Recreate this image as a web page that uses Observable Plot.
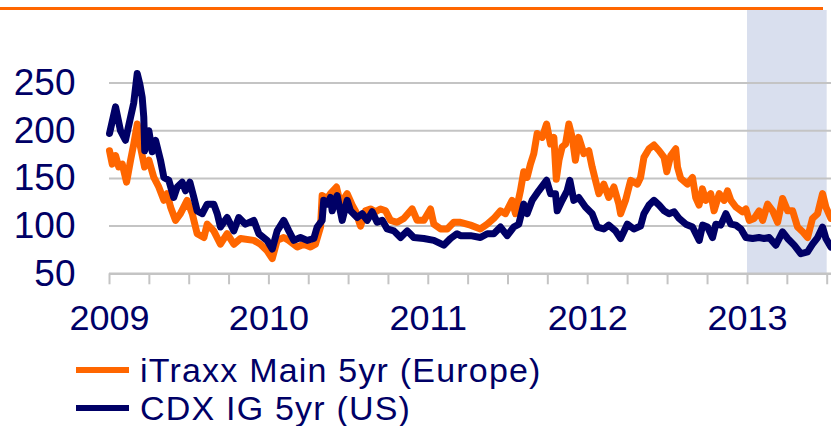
<!DOCTYPE html>
<html>
<head>
<meta charset="utf-8">
<script src="https://cdn.jsdelivr.net/npm/d3@7"></script>
<script src="https://cdn.jsdelivr.net/npm/@observablehq/plot@0.6"></script>
<style>
  html, body { margin: 0; padding: 0; background: #fff; }
  #wrap { position: relative; width: 831px; height: 426px; overflow: hidden; font-family: Arial, "Liberation Sans", sans-serif; color: #000066; }
  #toprule { position: absolute; left: 0; top: 7px; width: 823px; height: 3px; background: #ff6600; }
  #chart svg { display: block; }
  .row { display: flex; align-items: center; height: 38px; }
  .sw { width: 53px; height: 6px; margin-left: 76px; margin-right: 11px; flex: none; }
  .lab { display: inline-block; font-size: 34px; line-height: 38px; letter-spacing: 1.2px; white-space: nowrap; }
</style>
</head>
<body>
<div id="wrap">
  <div id="chart"></div>
  <div id="legend"></div>
  <div id="toprule"></div>
</div>
<script>
// ---- Data (decimal years, basis points) ----
const seriesNames = ["iTraxx Main 5yr (Europe)", "CDX IG 5yr (US)"];
const seriesColors = ["#ff6600", "#000066"];

const itraxxT = [2009.000,2009.017,2009.038,2009.058,2009.080,2009.107,2009.132,2009.152,2009.174,2009.194,2009.220,2009.247,2009.278,2009.309,2009.341,2009.362,2009.383,2009.414,2009.445,2009.487,2009.519,2009.550,2009.592,2009.613,2009.654,2009.696,2009.738,2009.780,2009.822,2009.905,2009.947,2009.989,
2010.021,2010.052,2010.093,2010.125,2010.178,2010.219,2010.261,2010.292,2010.324,2010.334,2010.366,2010.386,2010.424,2010.449,2010.491,2010.523,2010.543,2010.575,2010.606,2010.637,2010.669,2010.700,2010.732,2010.763,2010.805,2010.846,2010.899,2010.930,2010.972,
2011.014,2011.035,2011.077,2011.119,2011.160,2011.202,2011.265,2011.327,2011.370,2011.411,2011.453,2011.484,2011.526,2011.547,2011.578,2011.599,2011.620,2011.641,2011.662,2011.683,2011.715,2011.742,2011.767,2011.788,2011.803,2011.820,2011.840,2011.861,2011.882,2011.903,2011.923,2011.944,2011.976,
2012.007,2012.028,2012.049,2012.070,2012.101,2012.132,2012.164,2012.195,2012.206,2012.237,2012.269,2012.311,2012.331,2012.352,2012.384,2012.415,2012.447,2012.478,2012.495,2012.520,2012.551,2012.562,2012.582,2012.624,2012.656,2012.676,2012.697,2012.718,2012.739,2012.770,2012.791,2012.823,2012.854,2012.875,2012.896,2012.927,2012.969,2012.990,
2013.011,2013.042,2013.073,2013.095,2013.126,2013.158,2013.189,2013.220,2013.252,2013.283,2013.314,2013.346,2013.377,2013.408,2013.440,2013.471,2013.492,2013.523];
const itraxxV = [179,165,174,162,165,146,169,186,207,183,162,169,151,141,127,134,120,106,113,127,113,92,88,102,95,81,92,81,87,85,81,74,
66,85,88,85,78,81,78,81,99,132,129,134,141,123,134,122,116,100,116,118,115,118,116,106,104,108,118,106,106,
118,102,97,97,104,104,101,97,102,108,116,113,127,113,137,157,151,165,176,197,193,207,186,193,149,169,183,186,207,193,169,193,176,
179,162,148,134,144,130,141,123,113,127,148,144,151,172,181,185,179,172,157,174,181,162,150,144,151,130,122,139,127,134,116,134,127,137,127,120,115,118,
106,108,116,106,123,116,104,129,116,116,99,94,88,108,113,134,120,108];

const cdxT = [2009.000,2009.038,2009.069,2009.100,2009.132,2009.152,2009.174,2009.190,2009.205,2009.215,2009.221,2009.247,2009.268,2009.289,2009.320,2009.341,2009.372,2009.403,2009.425,2009.456,2009.477,2009.504,2009.529,2009.550,2009.582,2009.613,2009.654,2009.676,2009.696,2009.738,2009.780,2009.811,2009.853,2009.905,2009.937,2009.989,
2010.021,2010.052,2010.093,2010.125,2010.156,2010.198,2010.240,2010.282,2010.303,2010.334,2010.344,2010.366,2010.386,2010.397,2010.428,2010.460,2010.491,2010.512,2010.554,2010.585,2010.617,2010.648,2010.679,2010.711,2010.742,2010.784,2010.826,2010.868,2010.909,2010.972,
2011.035,2011.097,2011.139,2011.181,2011.202,2011.265,2011.327,2011.370,2011.411,2011.453,2011.495,2011.536,2011.568,2011.599,2011.620,2011.652,2011.693,2011.742,2011.767,2011.798,2011.809,2011.840,2011.871,2011.888,2011.913,2011.944,2011.986,
2012.028,2012.060,2012.101,2012.132,2012.174,2012.206,2012.248,2012.289,2012.331,2012.352,2012.384,2012.415,2012.447,2012.478,2012.509,2012.541,2012.572,2012.614,2012.656,2012.698,2012.719,2012.750,2012.781,2012.802,2012.833,2012.865,2012.896,2012.927,2012.959,2012.990,
2013.032,2013.073,2013.105,2013.136,2013.178,2013.220,2013.252,2013.293,2013.335,2013.377,2013.408,2013.440,2013.471,2013.492,2013.523];
const cdxV = [197,225,200,190,214,229,260,249,235,214,179,200,178,190,169,151,148,130,141,146,137,146,130,116,113,123,123,113,99,109,95,109,102,106,92,85,
76,95,106,95,85,88,85,87,99,106,127,123,130,116,132,106,127,116,109,113,106,115,104,106,97,95,88,95,88,87,
85,80,87,92,90,90,88,92,92,99,90,99,102,123,113,127,137,148,134,134,116,127,137,148,127,130,120,
113,99,97,101,95,87,102,97,100,113,122,127,122,116,113,115,108,102,99,85,101,99,88,102,101,113,102,101,97,88,
87,88,87,88,80,94,87,80,71,73,81,88,99,87,78];

const yTicks = [50, 100, 150, 200, 250];
const gridValues = [100, 150, 200, 250];
const yearTicks = [2009, 2010, 2011, 2012, 2013];
const quarterTicks = [2009.0,2009.25,2009.5,2009.75,2010.0,2010.25,2010.5,2010.75,2011.0,2011.25,2011.5,2011.75,2012.0,2012.25,2012.5,2012.75,2013.0,2013.25,2013.5];
const xStart = 2009.0, xEnd = 2013.527;
const shadeStart = 2013.0, shadeEnd = 2013.5;

// ---- helpers ----
const toDate = t => {
  const y = Math.floor(t);
  const s = Date.UTC(y, 0, 1), e = Date.UTC(y + 1, 0, 1);
  return new Date(s + (t - y) * (e - s));
};
const zip = (T, V) => T.slice(0, Math.min(T.length, V.length)).map((t, i) => ({date: toDate(t), v: V[i]}));
const itraxx = zip(itraxxT, itraxxV);
const cdx = zip(cdxT, cdxV);

const navy = "#000066";
const grid = "#c4c4c4";

const chart = Plot.plot({
  width: 831,
  height: 350.7,
  marginLeft: 109,
  marginRight: 0,
  marginTop: 10,
  marginBottom: 77.4,
  x: {type: "utc", domain: [toDate(xStart), toDate(xEnd)]},
  y: {domain: [50, 326]},
  style: {fontFamily: "Arial, 'Liberation Sans', sans-serif", color: navy, background: "transparent", overflow: "visible"},
  marks: [
    Plot.rect([{a: toDate(shadeStart), b: toDate(shadeEnd)}], {x1: "a", x2: "b", fill: "#d9dfee"}),
    Plot.ruleY(gridValues, {stroke: grid, strokeWidth: 2}),
    Plot.ruleX(quarterTicks.map(toDate), {x: d => d, y1: 50, y2: 50, insetBottom: -11, stroke: grid, strokeWidth: 2}),
    Plot.ruleY([50], {stroke: grid, strokeWidth: 2.5}),
    Plot.axisX({ticks: yearTicks.map(y => toDate(y)), tickSize: 0, tickPadding: 31, tickFormat: "%Y", fontSize: 36, fill: navy, label: null}),
    Plot.axisY({ticks: yTicks, tickSize: 0, tickPadding: 34, fontSize: 37, fill: navy, label: null}),
    Plot.line(itraxx, {x: "date", y: "v", stroke: seriesColors[0], strokeWidth: 7, strokeLinejoin: "round", strokeLinecap: "round"}),
    Plot.line(cdx, {x: "date", y: "v", stroke: seriesColors[1], strokeWidth: 7, strokeLinejoin: "round", strokeLinecap: "round"})
  ]
});
document.getElementById("chart").appendChild(chart);

const legend = document.getElementById("legend");
seriesNames.forEach((name, i) => {
  const row = document.createElement("div");
  row.className = "row";
  const sw = document.createElement("div");
  sw.className = "sw";
  sw.style.background = seriesColors[i];
  const lab = document.createElement("span");
  lab.className = "lab";
  lab.textContent = name;
  row.appendChild(sw);
  row.appendChild(lab);
  legend.appendChild(row);
});
</script>
</body>
</html>
